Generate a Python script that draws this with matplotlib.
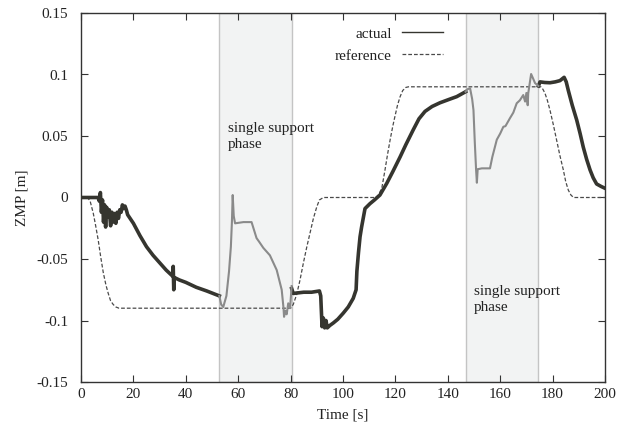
import matplotlib
matplotlib.use("Agg")
import matplotlib.pyplot as plt
import numpy as np

plt.rcParams['font.family'] = ['Liberation Serif', 'DejaVu Serif']
plt.rcParams['font.size'] = 11

# ---------------- data ----------------
# measured ZMP, double support part 1
t_act1 = [0, 6.5, 7.0, 7.4, 7.8, 8.2, 8.6, 9.0, 9.4, 9.8, 10.3, 10.8, 11.3, 11.8, 12.3,
          12.8, 13.3, 13.8, 14.3, 14.8, 15.3, 15.8, 16.3, 16.8, 17.3, 17.8, 20, 22.5, 25,
          27.5, 30, 32.5, 35.0, 35.2, 35.4, 35.6, 37.5, 40, 44, 48, 52.8]
z_act1 = [0, 0, -0.003, 0.004, -0.012, -0.002, -0.020, -0.006, -0.024, -0.008, -0.016,
          -0.010, -0.023, -0.012, -0.020, -0.013, -0.021, -0.012, -0.017, -0.010, -0.012,
          -0.006, -0.009, -0.007, -0.010, -0.014, -0.021, -0.031, -0.040, -0.047, -0.053,
          -0.059, -0.064, -0.056, -0.075, -0.065, -0.067, -0.069, -0.073, -0.076, -0.080]

# measured ZMP, single support phase 1
t_ss1 = [52.8, 53.5, 54.3, 55.5, 56.5, 57.2, 57.6, 57.9, 58.3, 58.8, 62, 65.1, 67, 68,
         69.6, 72.1, 74.7, 76.6, 77.3, 77.5, 78, 78.5, 79.1, 79.8, 80.4]
z_ss1 = [-0.080, -0.087, -0.089, -0.080, -0.060, -0.040, -0.020, 0.002, -0.015, -0.021,
         -0.020, -0.020, -0.033, -0.036, -0.041, -0.047, -0.059, -0.075, -0.090, -0.097,
         -0.092, -0.095, -0.086, -0.090, -0.072]

# measured ZMP, double support part 2
t_act2 = [80.4, 81, 85, 88, 91.0, 91.5, 92.0, 92.5, 93.0, 93.5, 94, 95, 96.3, 98, 100.1,
          102, 103.9, 105, 105.3, 105.9, 106.5, 107.1, 108.4, 110.3, 112, 114.1, 116.7,
          119, 121.8, 124, 126.8, 129, 131.3, 134, 137, 140.8, 143.4, 146.8]
z_act2 = [-0.074, -0.078, -0.077, -0.077, -0.076, -0.080, -0.105, -0.098, -0.106, -0.100,
          -0.106, -0.104, -0.102, -0.099, -0.094, -0.089, -0.082, -0.075, -0.060, -0.045,
          -0.032, -0.024, -0.009, -0.005, -0.002, 0.002, 0.0115, 0.021, 0.033, 0.043,
          0.055, 0.064, 0.070, 0.074, 0.077, 0.080, 0.082, 0.086]

# measured ZMP, single support phase 2
t_ss2 = [146.8, 147.5, 148.5, 149.3, 149.8, 150.3, 150.8, 151.1, 151.4, 153, 156.1, 157,
         158.7, 160, 161.2, 162, 163.7, 165, 166.3, 167.5, 168.8, 169.5, 170, 170.5, 170.7,
         171.8, 172.5, 173.3, 174.6]
z_ss2 = [0.086, 0.088, 0.0888, 0.080, 0.071, 0.045, 0.0224, 0.012, 0.023, 0.0237, 0.0237,
         0.033, 0.047, 0.052, 0.0575, 0.058, 0.0644, 0.069, 0.0766, 0.079, 0.0833, 0.078,
         0.085, 0.075, 0.0847, 0.1004, 0.097, 0.093, 0.0907]

# measured ZMP, double support part 3
t_act3 = [174.6, 175.2, 177, 179, 181, 182.8, 184.4, 185.2, 186, 187.5, 189.2, 190.5,
          191.7, 193, 194.3, 195.5, 196.8, 198.5, 200]
z_act3 = [0.0907, 0.094, 0.0935, 0.0933, 0.094, 0.095, 0.0977, 0.094, 0.087, 0.075,
          0.063, 0.052, 0.041, 0.031, 0.0224, 0.016, 0.011, 0.009, 0.0075]

# reference ZMP
t_ref = [0, 2.5, 3.5, 4.7, 5.6, 6.6, 7.5, 8.5, 9.5, 10.4, 11.3, 12.3, 13.3, 14.5,
         80, 81, 82.3, 83.6, 84.9, 86.2, 87.4, 88.7, 90, 91, 92.5,
         112.5, 113.5, 114.8, 116, 117, 118, 119, 119.8, 120.8, 121.8, 122.8, 124, 125,
         175.5, 176.3, 177.1, 178, 179, 180.3, 181.5, 182.8, 184.1, 185, 186, 187, 188, 200]
z_ref = [0, 0, -0.003, -0.013, -0.023, -0.035, -0.048, -0.061, -0.071, -0.078, -0.084,
         -0.087, -0.089, -0.090,
         -0.090, -0.087, -0.079, -0.067, -0.053, -0.040, -0.029, -0.017, -0.0075, -0.002, 0,
         0, 0.002, 0.0075, 0.022, 0.035, 0.047, 0.058, 0.0657, 0.075, 0.082, 0.087, 0.0895, 0.090,
         0.090, 0.088, 0.0847, 0.079, 0.071, 0.059, 0.047, 0.034, 0.0224, 0.013, 0.006, 0.002, 0, 0]

# single support phases (start, end) [s]
phases = [(52.8, 80.4), (146.8, 174.6)]
phase_label = "single support\nphase"

xticks = [0, 20, 40, 60, 80, 100, 120, 140, 160, 180, 200]
yticks = [-0.15, -0.1, -0.05, 0, 0.05, 0.1, 0.15]
ytick_labels = ["-0.15", "-0.1", "-0.05", "0", "0.05", "0.1", "0.15"]

# ---------------- plot ----------------
fig = plt.figure(figsize=(6.3, 4.26), dpi=100)
ax = fig.add_axes([81 / 630, 1 - 382 / 426, 524 / 630, 369 / 426])

for (a, b) in phases:
    ax.axvspan(a, b, facecolor='#f2f3f3', edgecolor='#c4c4c4', linewidth=1.0, zorder=0)

dark = '#35352f'
ax.plot(t_ref, z_ref, color='#4a4a4a', lw=0.9, ls=(0, (3, 1.6)), zorder=2, label='reference')
ax.plot(t_act1, z_act1, color=dark, lw=2.6, zorder=3, label='actual', solid_joinstyle='round')
ax.plot(t_act2, z_act2, color=dark, lw=2.6, zorder=3, solid_joinstyle='round')
ax.plot(t_act3, z_act3, color=dark, lw=2.6, zorder=3, solid_joinstyle='round')
ax.plot(t_ss1, z_ss1, color='#8a8a8a', lw=1.5, zorder=3)
ax.plot(t_ss2, z_ss2, color='#8a8a8a', lw=1.5, zorder=3)

ax.text(56.0, 0.061, phase_label, fontsize=11, va='top', ha='left', color='#222222',
        linespacing=1.3)
ax.text(150.1, -0.071, phase_label, fontsize=11, va='top', ha='left', color='#222222',
        linespacing=1.3)

ax.set_xlim(0, 200)
ax.set_ylim(-0.15, 0.15)
ax.set_xticks(xticks)
ax.set_xticklabels([str(v) for v in xticks])
ax.set_yticks(yticks)
ax.set_yticklabels(ytick_labels)
ax.tick_params(direction='in', length=5, width=0.8, color='#333333', top=True, right=True,
               labelcolor='#222222')
ax.tick_params(axis='y', pad=9)
ax.tick_params(axis='x', pad=4)
for s in ax.spines.values():
    s.set_color('#333333')
    s.set_linewidth(1.0)

ax.set_xlabel('Time [s]', color='#222222', labelpad=6)
ax.set_ylabel('ZMP [m]', color='#222222', labelpad=6)

h, l = ax.get_legend_handles_labels()
order = [l.index('actual'), l.index('reference')]
leg = ax.legend([h[i] for i in order], [l[i] for i in order], loc='upper right',
                bbox_to_anchor=(0.705, 0.983), frameon=False, markerfirst=False,
                handlelength=2.7, handletextpad=0.65, labelspacing=0.55, borderpad=0,
                fontsize=11)
for t in leg.get_texts():
    t.set_color('#222222')
leg.get_lines()[0].set_linewidth(1.0)

fig.savefig('out.png', dpi=100)
